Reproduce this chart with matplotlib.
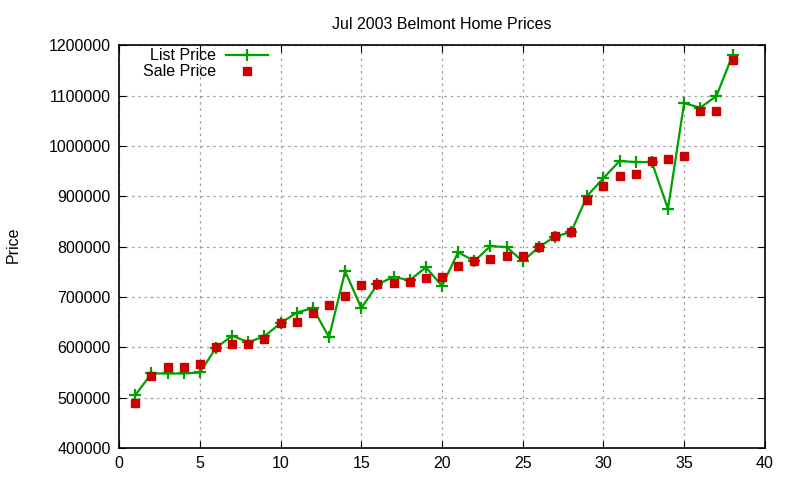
import numpy as np
import matplotlib.pyplot as plt

plt.rcParams['font.family'] = ['Liberation Sans', 'DejaVu Sans']

# Листинг и фактические цены продажи (по номеру дома)
house = list(range(1, 39))
list_price = [505000, 548000, 548000, 548000, 550000, 599000, 623000, 610000, 622000, 648000,
              669000, 678000, 620000, 751000, 678000, 725000, 740000, 733000, 759000, 722000,
              789000, 771000, 801000, 799000, 771000, 799000, 820000, 829000, 901000, 936000,
              970000, 968000, 968000, 875000, 1085000, 1076000, 1099000, 1180000]
sale_price = [489000, 543000, 560000, 560000, 566000, 600000, 606000, 606000, 617000, 648000,
              650000, 669000, 685000, 701000, 723000, 726000, 728000, 730000, 738000, 740000,
              761000, 771000, 775000, 781000, 781000, 799000, 821000, 830000, 892000, 921000,
              941000, 945000, 970000, 975000, 980000, 1069000, 1069000, 1171000]

x_ticks = list(range(0, 41, 5))
y_ticks = list(range(400000, 1200001, 100000))

fig = plt.figure(figsize=(8, 4.8), dpi=100)
ax = fig.add_axes([0.149, 0.0667, 0.807, 0.839])

ax.plot(house, list_price, color='#00a000', lw=1.6, marker='+', ms=8, mew=1.6,
        label='List Price')
ax.plot(house, sale_price, color='#cc0000', ls='none', marker='s', ms=5.8,
        label='Sale Price')

ax.set_xlim(0, 40)
ax.set_ylim(400000, 1200000)
ax.set_xticks(x_ticks)
ax.set_yticks(y_ticks)
ax.ticklabel_format(style='plain', axis='y', useOffset=False)
ax.tick_params(direction='in', top=True, right=True, length=5, labelsize=11.5, pad=6)
ax.grid(True, color='#a0a0a0', ls=(0, (2, 3)), lw=0.9)
for s in ax.spines.values():
    s.set_linewidth(1.2)

ax.set_title('Jul 2003 Belmont Home Prices', fontsize=11.5, pad=12)
fig.text(0.016, 0.49, 'Price', rotation=90, fontsize=11.5, va='center', ha='center')

ax.legend(loc='upper left', bbox_to_anchor=(0.019, 1.02), frameon=False, markerfirst=False,
          fontsize=11.5, handlelength=2.6, handletextpad=0.65, labelspacing=0.05,
          borderaxespad=0.3)

fig.savefig('out.png', dpi=100)
